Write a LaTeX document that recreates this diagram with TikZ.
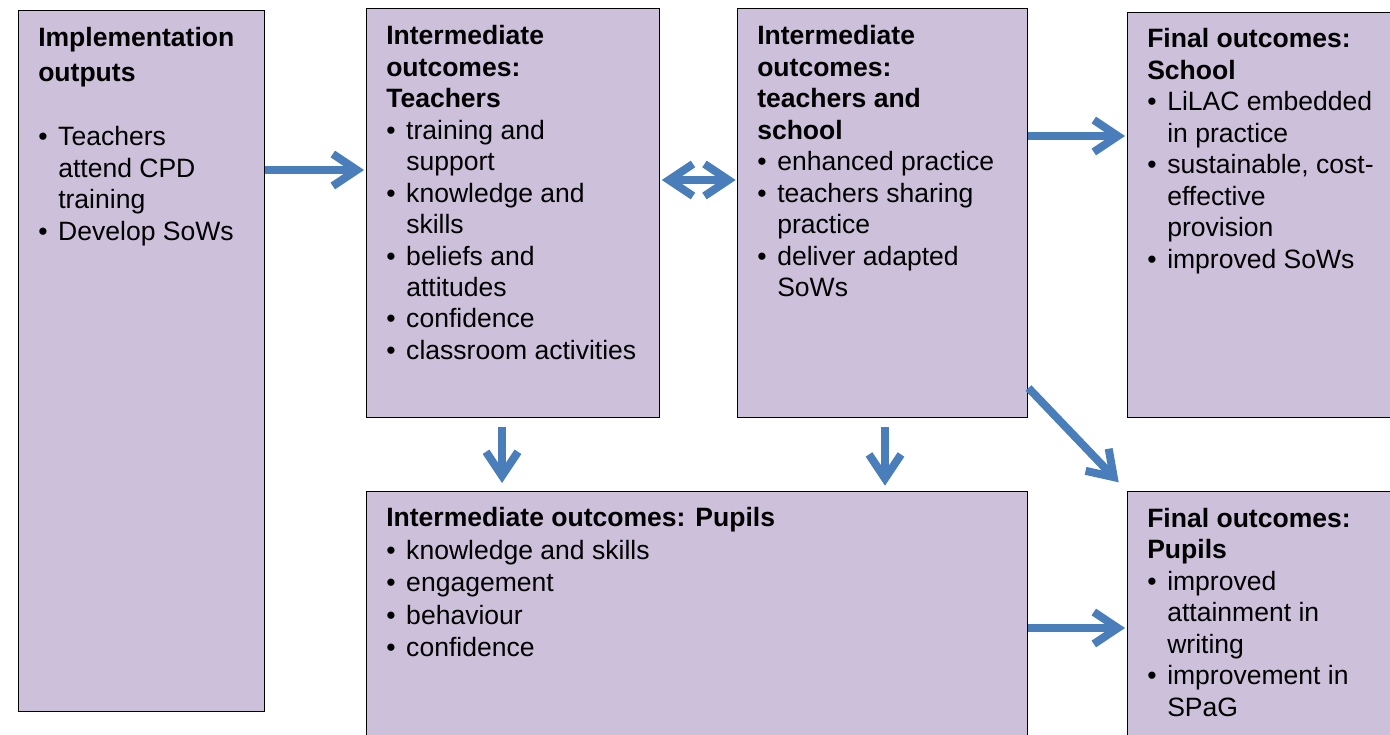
\documentclass[tikz,border=0pt]{standalone}
\usepackage{fontspec}
\setmainfont{Liberation Sans}
\usetikzlibrary{arrows.meta}
\definecolor{boxfill}{HTML}{CCC0DA}
\definecolor{arrblue}{HTML}{4A7EBB}
\newcommand{\bul}{\makebox[15pt][l]{\textbullet}}
\newcommand{\ind}{\hspace*{15pt}}
\begin{document}
\begin{tikzpicture}[x=0.75pt,y=-0.75pt,
  box/.style={draw=black, line width=1.1pt, fill=boxfill, inner sep=0pt, anchor=north west},
  txt/.style={anchor=north west, inner sep=0pt, align=left, font=\fontsize{19.9}{23.6}\selectfont},
  mytip/.tip={Straight Barb[length=18pt,width=24pt]},
  arr/.style={draw=arrblue, line width=6pt, -mytip},
  darr/.style={draw=arrblue, line width=6pt, mytip-mytip},
  ]
\clip (0,0) rectangle (1390,735);
% boxes
\node[box, minimum width=184.5pt, minimum height=525.75pt] (b1) at (18,10) {};
\node[box, minimum width=219.75pt, minimum height=306.75pt] (b2) at (366,8) {};
\node[box, minimum width=217.5pt, minimum height=306.75pt] (b3) at (737,8) {};
\node[box, minimum width=225pt, minimum height=303.75pt] (b4) at (1127,12) {};
\node[box, minimum width=495.75pt, minimum height=225pt] (b5) at (366,491) {};
\node[box, minimum width=225pt, minimum height=225pt] (b6) at (1127,491) {};
% texts
\node[txt] (t1) at (38,24.5) {\strut\textbf{Implementation}\\[2.6pt]
  \textbf{outputs}\\[24.4pt]
  \bul Teachers\\
  \ind attend CPD\\
  \ind training\\
  \bul Develop SoWs};
\node[txt] (t2) at (386,22.5) {\strut\textbf{Intermediate}\\
  \textbf{outcomes:}\\
  \textbf{Teachers}\\
  \bul training and\\
  \ind support\\
  \bul knowledge and\\
  \ind skills\\
  \bul beliefs and\\
  \ind attitudes\\
  \bul confidence\\
  \bul classroom activities};
\node[txt] (t3) at (757,22.5) {\strut\textbf{Intermediate}\\
  \textbf{outcomes:}\\
  \textbf{teachers and}\\
  \textbf{school}\\
  \bul enhanced practice\\
  \bul teachers sharing\\
  \ind practice\\
  \bul deliver adapted\\
  \ind SoWs};
\node[txt] (t4) at (1147,25.5) {\strut\textbf{Final outcomes:}\\
  \textbf{School}\\
  \bul LiLAC embedded\\
  \ind in practice\\
  \bul sustainable, cost-\\
  \ind effective\\
  \ind provision\\
  \bul improved SoWs};
\node[txt, font=\fontsize{19.9}{24.4}\selectfont] (t5) at (386,503.7) {\strut\textbf{Intermediate outcomes: Pupils}\\
  \bul knowledge and skills\\
  \bul engagement\\
  \bul behaviour\\
  \bul confidence};
\node[txt] (t6) at (1147,505) {\strut\textbf{Final outcomes:}\\
  \textbf{Pupils}\\
  \bul improved\\
  \ind attainment in\\
  \ind writing\\
  \bul improvement in\\
  \ind SPaG};
% connectors
\coordinate (h1) at (0,170);
\coordinate (h2) at (0,180);
\coordinate (h3) at (0,136);
\coordinate (h4) at (0,628);
\coordinate (h5) at (0,388);
\coordinate (v1) at (502,0);
\coordinate (v2) at (885,0);
\draw[arr, shorten >=1.5pt] (b1.east |- h1) -- (b2.west |- h1);
\draw[darr, shorten >=1pt, shorten <=1pt] (b2.east |- h2) -- (b3.west |- h2);
\draw[arr, shorten >=1.5pt] (b3.east |- h3) -- (b4.west |- h3);
\draw[arr, shorten >=1.5pt] (b5.east |- h4) -- (b6.west |- h4);
\draw[arr, shorten <=6.5pt, shorten >=6pt] (b2.south -| v1) -- (b5.north -| v1);
\draw[arr, shorten <=6.5pt, shorten >=4pt] (b3.south -| v2) -- (b5.north -| v2);
\draw[arr, shorten >=9pt] (b3.east |- h5) -- (b6.north west);
\end{tikzpicture}
\end{document}
